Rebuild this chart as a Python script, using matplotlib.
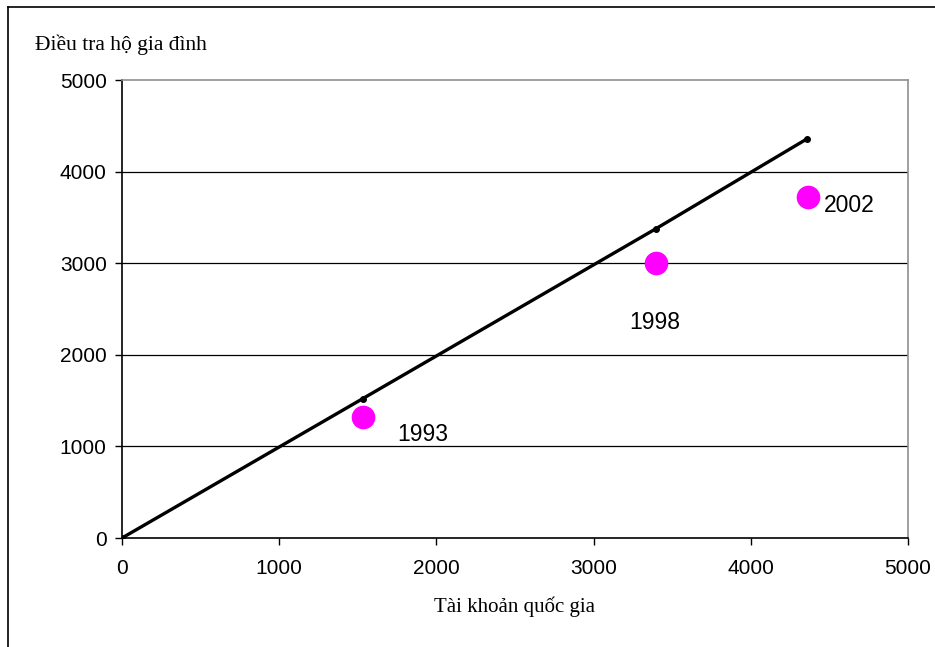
import matplotlib.pyplot as plt
from matplotlib.lines import Line2D

# national accounts (x) vs household survey (y)
years = ['1993', '1998', '2002']
national = [1530, 3400, 4365]
household = [1320, 3000, 3720]
fit_x = [0, 1530, 3395, 4360]
fit_y = [0, 1520, 3375, 4360]
ticks = [0, 1000, 2000, 3000, 4000, 5000]

fig = plt.figure(figsize=(9.35, 6.47), dpi=100)
ax = fig.add_axes([122 / 935, 1 - 538 / 647, 786 / 935, 458 / 647])

# outer frame of the picture
fig.add_artist(Line2D([8 / 935, 8 / 935], [0, 1 - 7 / 647], color='black', lw=1.2,
                      transform=fig.transFigure))
fig.add_artist(Line2D([8 / 935, 1], [1 - 7 / 647, 1 - 7 / 647], color='black', lw=1.2,
                      transform=fig.transFigure))

ax.plot(fit_x, fit_y, color='black', lw=2.4, marker='o', ms=4, zorder=3)
ax.plot(national, household, 'o', color='#ff00ff', ms=16, zorder=4)

offsets = [(60, -17), (-2, -59), (41, -8)]
for yr, x, y, off in zip(years, national, household, offsets):
    ax.annotate(yr, (x, y), xytext=off, textcoords='offset pixels', ha='center', va='center',
                fontsize=16.5, family='Liberation Sans')

ax.set_xlim(0, 5000)
ax.set_ylim(0, 5000)
ax.set_xticks(ticks)
ax.set_yticks(ticks)
ax.tick_params(labelsize=15, length=5, width=1, direction='out', colors='black')
for lbl in ax.get_xticklabels() + ax.get_yticklabels():
    lbl.set_family('Liberation Sans')
ax.tick_params(axis='x', pad=10)
ax.tick_params(axis='y', pad=6)

for v in ticks[1:-1]:
    ax.axhline(v, color='black', lw=0.9, zorder=1)
ax.spines['left'].set_color('black')
ax.spines['bottom'].set_color('black')
ax.spines['left'].set_linewidth(1.2)
ax.spines['bottom'].set_linewidth(1.2)
ax.spines['right'].set_color('#909090')
ax.spines['top'].set_color('#909090')
ax.spines['right'].set_linewidth(1.2)
ax.spines['top'].set_linewidth(1.2)

fig.text(35 / 935, 1 - 45 / 647, 'Điều tra hộ gia đình', fontsize=15.5, family='Liberation Serif',
         va='center', ha='left')
fig.text(515 / 935, 1 - 607 / 647, 'Tài khoản quốc gia', fontsize=15, family='Liberation Serif',
         va='center', ha='center')

fig.savefig('out.png', dpi=100)
